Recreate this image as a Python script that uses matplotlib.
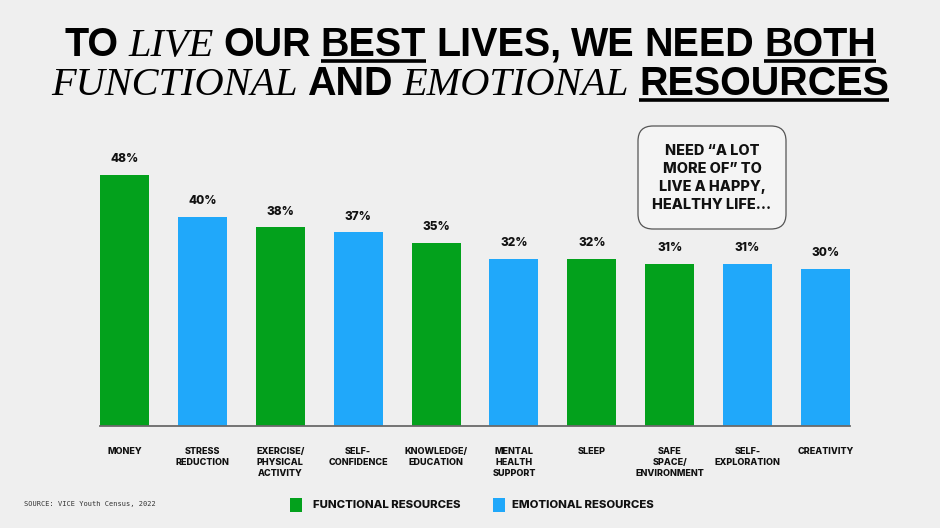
import matplotlib
matplotlib.use("Agg")
import matplotlib.pyplot as plt
from matplotlib.patches import FancyBboxPatch, Rectangle
from matplotlib.transforms import IdentityTransform
from matplotlib.lines import Line2D
from matplotlib import font_manager as fm

# ---------------- data ----------------
categories = ["MONEY", "STRESS\nREDUCTION", "EXERCISE/\nPHYSICAL\nACTIVITY", "SELF-\nCONFIDENCE",
              "KNOWLEDGE/\nEDUCATION", "MENTAL\nHEALTH\nSUPPORT", "SLEEP", "SAFE\nSPACE/\nENVIRONMENT",
              "SELF-\nEXPLORATION", "CREATIVITY"]
values = [48, 40, 38, 37, 35, 32, 32, 31, 31, 30]
groups = ["functional", "emotional", "functional", "emotional", "functional",
          "emotional", "functional", "functional", "emotional", "emotional"]
group_labels = {"functional": "FUNCTIONAL RESOURCES", "emotional": "EMOTIONAL RESOURCES"}
callout_text = "NEED \u201cA LOT\nMORE OF\u201d TO\nLIVE A HAPPY,\nHEALTHY LIFE..."
source_text = "SOURCE: VICE Youth Census, 2022"

colors = {"functional": "#03A11C", "emotional": "#20A8FA"}
BG = "#EFEFEF"

names = {f.name for f in fm.fontManager.ttflist}
SANS = "Inter" if "Inter" in names else "DejaVu Sans"
HEAD = "Liberation Sans" if "Liberation Sans" in names else "DejaVu Sans"
SERIF = "Liberation Serif" if "Liberation Serif" in names else "DejaVu Serif"
BW = "heavy"

W, H = 940, 528
fig = plt.figure(figsize=(W / 100, H / 100), dpi=100, facecolor=BG)
px = IdentityTransform()

# ---------------- axes / bars ----------------
ax = fig.add_axes([100 / W, 102 / H, 750 / W, 261.5 / H])
ax.set_facecolor(BG)
x = list(range(len(values)))
ax.bar(x, values, width=0.63, color=[colors[g] for g in groups], zorder=2)
ax.set_xlim(-0.315, len(values) - 1 + 0.315)
ax.set_ylim(0, 50)
for s in ["top", "right", "left"]:
    ax.spines[s].set_visible(False)
ax.spines["bottom"].set_color("#6a6a6a")
ax.spines["bottom"].set_linewidth(1.3)
ax.set_yticks([])
ax.set_xticks(x)
ax.set_xticklabels(categories, fontsize=6.5, fontweight=BW, family=SANS,
                   linespacing=1.3, color="#111111", va="top")
ax.tick_params(axis="x", length=0, pad=15)
for xi, v in zip(x, values):
    ax.annotate(f"{v}%", (xi, v), xytext=(0, 7), textcoords="offset points",
                ha="center", va="bottom", fontsize=8.5, fontweight=BW,
                family=SANS, color="#111111", annotation_clip=False)

# ---------------- title (mixed fonts) ----------------
renderer = fig.canvas.get_renderer()

line1 = [("TO", "s", False), ("LIVE", "i", False), ("OUR", "s", False), ("BEST", "s", True),
         ("LIVES,", "s", False), ("WE", "s", False), ("NEED", "s", False), ("BOTH", "s", True)]
line2 = [("FUNCTIONAL", "i", False), ("AND", "s", False), ("EMOTIONAL", "i", False),
         ("RESOURCES", "s", True)]


def kws(ts):
    return (dict(family=HEAD, fontweight="bold", fontsize=ts),
            dict(family=SERIF, style="italic", fontsize=ts * 1.02))


def width_of(s, kw):
    t = fig.text(0, 0, s, transform=px, **kw)
    w = t.get_window_extent(renderer).width
    t.remove()
    return w


def line_width(pieces, ts, sp_frac):
    sk, ik = kws(ts)
    sp = (width_of("a a", sk) - width_of("aa", sk)) * sp_frac
    widths = [width_of(p, sk if k == "s" else ik) for p, k, _ in pieces]
    return widths, sp, sum(widths) + sp * (len(pieces) - 1)


SPF = 0.9
_, _, w_ref = line_width(line1, 20, SPF)
TS = 20 * 812.0 / w_ref


def draw_line(pieces, baseline_from_top, underline_from_top):
    sk, ik = kws(TS)
    widths, sp, total = line_width(pieces, TS, SPF)
    xcur = W / 2 - total / 2
    yb = H - baseline_from_top
    for (p, k, ul), w in zip(pieces, widths):
        kw = sk if k == "s" else ik
        fig.text(xcur, yb, p, transform=px, ha="left", va="baseline", color="black", **kw)
        if ul:
            yu = H - underline_from_top
            fig.add_artist(Line2D([xcur, xcur + w], [yu, yu], transform=px,
                                  color="black", linewidth=2.6, solid_capstyle="butt"))
        xcur += w + sp


draw_line(line1, 56, 61)
draw_line(line2, 95, 100)

# ---------------- callout ----------------
box = FancyBboxPatch((638, H - 229), 148, 103, boxstyle="round,pad=0,rounding_size=15",
                     transform=px, facecolor="#F4F4F4", edgecolor="#555555", linewidth=0.9)
fig.add_artist(box)
fig.text(712, H - 178, callout_text, transform=px, ha="center", va="center",
         fontsize=10.4, fontweight=BW, family=SANS, linespacing=1.35, color="#111111")

# ---------------- legend ----------------
legend_pos = [("functional", 290, 313), ("emotional", 493, 512)]
for g, sx, tx in legend_pos:
    fig.add_artist(Rectangle((sx, H - 512), 12, 14, transform=px,
                             facecolor=colors[g], edgecolor="none"))
    fig.text(tx, H - 505.5, group_labels[g], transform=px, ha="left", va="center",
             fontsize=8.2, fontweight=BW, family=SANS, color="#111111")

# ---------------- source ----------------
fig.text(24, H - 504, source_text, transform=px, ha="left", va="center",
         fontsize=5, family="DejaVu Sans Mono", color="#333333")

fig.savefig("out.png", dpi=100, facecolor=BG)
